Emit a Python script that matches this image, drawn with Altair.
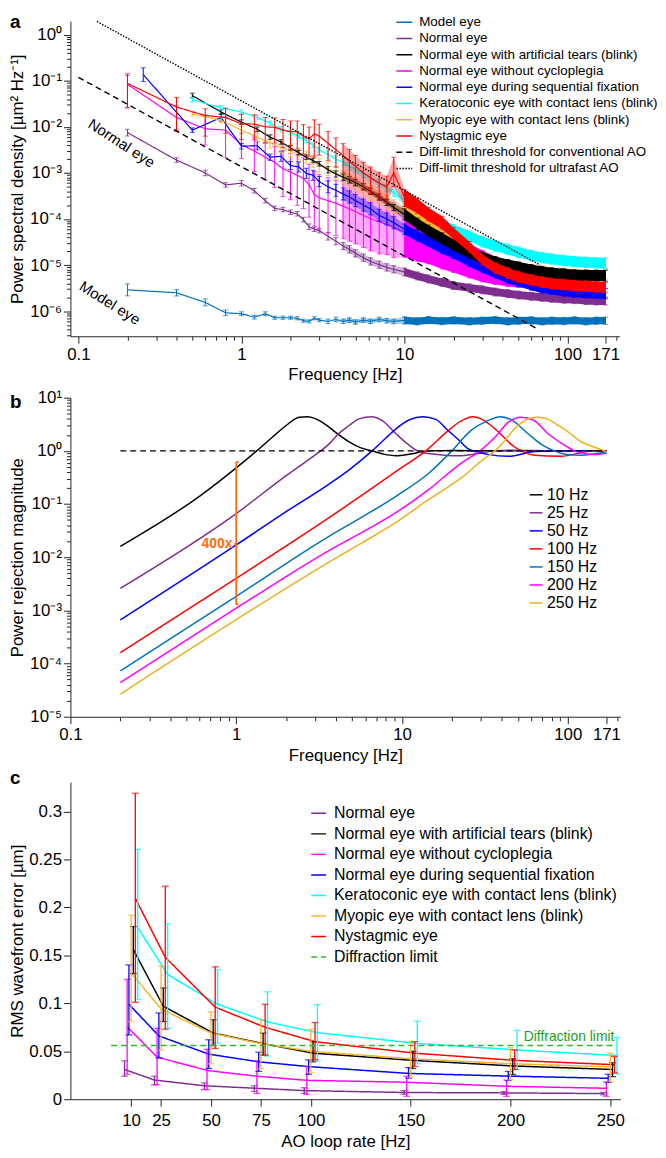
import altair as alt
import pandas as pd

FONT = "Liberation Sans"
AX = "#262626"

# ====================== Panel a : power spectral density ======================
A_NAMES = [
    "Model eye", "Normal eye", "Normal eye with artificial tears (blink)",
    "Normal eye without cycloplegia", "Normal eye during sequential fixation",
    "Keratoconic eye with contact lens (blink)", "Myopic eye with contact lens (blink)",
    "Nystagmic eye", "Diff-limit threshold for conventional AO",
    "Diff-limit threshold for ultrafast AO"]
A_COLORS = ["#0072BD", "#7E2F8E", "#000000", "#FF00FF", "#0000FF", "#00FFFF",
            "#F7B52C", "#FF0000", "#000000", "#000000"]
A_DASHES = [[1, 0]] * 8 + [[6, 4], [1.5, 1.5]]

F_02 = [0.2, 0.4, 0.6, 0.8, 1.0, 1.2, 1.4, 1.6, 1.8, 2.0, 2.2, 2.4, 2.6, 2.8, 3.0]
F_025 = [0.25, 0.5, 0.75, 1.0, 1.25, 1.5, 1.75, 2.0, 2.25, 2.5, 2.75, 3.0]
F_05 = [0.5, 0.75, 1.0, 1.25, 1.5, 1.75, 2.0, 2.25, 2.5, 2.75, 3.0]
F_HI = [3.4, 3.8, 4.2, 4.6, 5.0, 5.6, 6.2, 7.0, 7.8, 8.6, 10, 12, 14, 17, 20, 25, 30,
        36, 43, 50, 60, 70, 80, 95, 110, 130, 150, 171]

MODEL_V = [2.9e-6, 2.5e-6, 1.55e-6, 9.2e-7, 8.8e-7, 7.4e-7, 8.8e-7, 7.2e-7, 7.2e-7, 7.2e-7,
           7.0e-7, 6.2e-7, 6.0e-7, 7.0e-7, 6.4e-7,
           6.0e-7, 6.6e-7, 6.0e-7, 6.4e-7, 5.8e-7, 6.4e-7, 6.0e-7, 6.6e-7, 6.2e-7, 6.0e-7,
           6.3e-7, 6.0e-7, 6.4e-7, 6.1e-7, 6.3e-7, 6.0e-7, 6.2e-7, 6.4e-7, 6.0e-7, 6.2e-7,
           6.3e-7, 6.0e-7, 6.2e-7, 6.1e-7, 6.3e-7, 6.0e-7, 6.2e-7, 6.2e-7]
MODEL_ERR = [1.35, 1.17, 1.19, 1.15, 1.1, 1.1, 1.1, 1.08, 1.08, 1.08, 1.08, 1.08, 1.08, 1.08, 1.08,
             1.12, 1.12, 1.12, 1.12, 1.12, 1.12, 1.12, 1.12, 1.12, 1.12,
             1.2, 1.2, 1.2, 1.2, 1.2, 1.2, 1.2, 1.2, 1.2, 1.2, 1.2, 1.2, 1.2, 1.2, 1.2, 1.2, 1.2, 1.2]

NORMAL_V = [7.5e-3, 1.9e-3, 1.0e-3, 5.5e-4, 6.0e-4, 4.1e-4, 2.5e-4, 1.7e-4, 1.6e-4, 1.4e-4,
            1.3e-4, 9.7e-5, 6.8e-5, 6.0e-5, 5.6e-5,
            4.2e-5, 3.3e-5, 2.6e-5, 2.2e-5, 1.8e-5, 1.45e-5, 1.2e-5, 1.02e-5, 8.9e-6, 8.1e-6,
            7.1e-6, 5.8e-6, 5.0e-6, 4.2e-6, 3.6e-6, 3.2e-6, 2.9e-6, 2.6e-6, 2.4e-6, 2.24e-6,
            2.1e-6, 2.0e-6, 1.9e-6, 1.82e-6, 1.78e-6, 1.7e-6, 1.66e-6, 1.66e-6]
NORMAL_ERR = [1.18, 1.12, 1.15, 1.12, 1.15, 1.12, 1.12, 1.12, 1.12, 1.12, 1.12, 1.12, 1.15, 1.12, 1.12,
              1.2, 1.2, 1.2, 1.2, 1.2, 1.2, 1.2, 1.2, 1.2, 1.2,
              1.22, 1.22, 1.22, 1.22, 1.22, 1.22, 1.22, 1.22, 1.22, 1.22, 1.22, 1.22, 1.22, 1.22,
              1.22, 1.22, 1.22, 1.22]

TEARS_V = [4.8e-2, 2.1e-2, 1.27e-2, 8.9e-3, 6.0e-3, 4.7e-3, 3.5e-3, 2.75e-3, 2.2e-3, 1.86e-3, 1.58e-3,
           1.17e-3, 9.5e-4, 8.1e-4, 7.1e-4, 6.2e-4, 5.0e-4, 4.0e-4, 3.0e-4, 2.3e-4, 1.78e-4,
           1.26e-4, 7.9e-5, 5.6e-5, 3.8e-5, 2.75e-5, 1.86e-5, 1.45e-5, 1.17e-5, 1.0e-5, 8.9e-6,
           7.8e-6, 7.1e-6, 6.6e-6, 6.3e-6, 6.0e-6, 5.9e-6, 5.9e-6, 5.9e-6]
TEARS_ERR = [1.12, 1.12, 1.12, 1.12, 1.12, 1.12, 1.12, 1.12, 1.12, 1.12, 1.12,
             1.17, 1.17, 1.17, 1.17, 1.17, 1.17, 1.17, 1.17, 1.17, 1.17,
             1.32, 1.32, 1.32, 1.32, 1.32, 1.32, 1.32, 1.32, 1.32, 1.32, 1.32, 1.32, 1.32, 1.32,
             1.32, 1.32, 1.32, 1.32]

NOCYC_V = [8.4e-2, 1.6e-2, 9.1e-3, 8.5e-3, 4.1e-3, 3.0e-3, 2.2e-3, 1.7e-3, 1.23e-3, 1.05e-3,
           8.9e-4, 7.6e-4, 5.5e-4, 3.4e-4, 2.9e-4,
           2.5e-4, 2.2e-4, 1.9e-4, 1.66e-4, 1.45e-4, 1.2e-4, 1.02e-4, 8.7e-5, 7.6e-5, 6.6e-5,
           5.2e-5, 4.0e-5, 3.2e-5, 2.3e-5, 1.8e-5, 1.26e-5, 9.5e-6, 7.6e-6, 6.2e-6, 5.2e-6,
           4.4e-6, 3.8e-6, 3.4e-6, 3.0e-6, 2.8e-6, 2.6e-6, 2.5e-6, 2.45e-6]
NOCYC_UP = [1.7, 1.78, 2.0, 1.9, 1.78, 2.0, 2.0, 2.24, 2.5, 2.5, 2.8, 2.8, 2.8, 3.16, 3.16,
            3.16, 3.16, 3.5, 3.5, 3.5, 3.5, 3.5, 3.5, 3.5, 3.5,
            3.2, 3.0, 2.8, 2.6, 2.5, 2.3, 2.2, 2.0, 1.8, 1.6,
            1.45, 1.35, 1.3, 1.26, 1.26, 1.26, 1.26, 1.26]
NOCYC_DN = [3.2, 2.0, 2.24, 4.0, 2.0, 2.8, 3.16, 3.5, 4.0, 4.0, 4.5, 4.5, 5.0, 5.0, 5.0,
            5.0, 5.0, 5.0, 5.0, 5.0, 5.0, 5.0, 5.0, 4.5, 4.5,
            3.5, 3.3, 3.0, 2.8, 2.6, 2.4, 2.2, 2.0, 1.8, 1.6,
            1.45, 1.35, 1.3, 1.26, 1.26, 1.26, 1.26, 1.26]

SEQ_V = [0.136, 8.5e-3, 1.6e-2, 3.8e-3, 3.9e-3, 2.2e-3, 2.3e-3, 1.45e-3, 1.35e-3, 9.8e-4, 8.9e-4, 6.5e-4,
         5.0e-4, 4.2e-4, 3.5e-4, 3.0e-4, 2.5e-4, 2.0e-4, 1.66e-4, 1.2e-4, 1.0e-4, 8.3e-5,
         6.0e-5, 4.3e-5, 3.3e-5, 2.3e-5, 1.8e-5, 1.2e-5, 8.9e-6, 6.8e-6, 5.2e-6, 4.5e-6,
         3.7e-6, 3.2e-6, 3.0e-6, 2.75e-6, 2.6e-6, 2.5e-6, 2.45e-6, 2.4e-6]
SEQ_ERR = [1.41, 1.12, 1.2, 1.15, 1.23, 1.17, 1.29, 1.23, 1.29, 1.29, 1.29, 1.29,
           1.35, 1.35, 1.35, 1.35, 1.35, 1.35, 1.35, 1.35, 1.35, 1.35,
           1.3, 1.3, 1.3, 1.3, 1.3, 1.3, 1.3, 1.3, 1.3, 1.3, 1.3, 1.3, 1.3, 1.3, 1.3, 1.3, 1.3, 1.3]

KERA_V = [3.9e-2, 2.6e-2, 2.1e-2, 1.6e-2, 1.2e-2, 9.1e-3, 7.6e-3, 6.3e-3, 5.0e-3, 4.0e-3, 3.2e-3,
          2.5e-3, 2.0e-3, 1.7e-3, 1.4e-3, 1.2e-3, 9.5e-4, 7.8e-4, 6.0e-4, 4.7e-4, 3.7e-4,
          2.6e-4, 1.74e-4, 1.26e-4, 7.9e-5, 5.8e-5, 4.2e-5, 3.2e-5, 2.6e-5, 2.2e-5, 1.9e-5,
          1.62e-5, 1.45e-5, 1.35e-5, 1.26e-5, 1.2e-5, 1.15e-5, 1.12e-5, 1.1e-5]
KERA_ERR = [1.12, 1.12, 1.12, 1.12, 1.12, 1.12, 1.12, 1.12, 1.12, 1.12, 1.12,
            1.2, 1.2, 1.2, 1.2, 1.2, 1.2, 1.2, 1.2, 1.2, 1.2,
            1.3, 1.3, 1.3, 1.3, 1.3, 1.3, 1.3, 1.3, 1.3, 1.3, 1.3, 1.3, 1.3, 1.3, 1.3, 1.3, 1.3, 1.3]

MYO_V = [1.9e-2, 1.4e-2, 8.5e-3, 6.0e-3, 4.5e-3, 3.6e-3, 3.0e-3, 2.6e-3, 2.2e-3, 1.78e-3, 1.45e-3,
         1.23e-3, 1.0e-3, 8.1e-4, 6.5e-4, 5.5e-4, 4.3e-4, 3.5e-4, 2.9e-4, 2.3e-4, 1.86e-4,
         1.48e-4, 1.07e-4, 7.6e-5, 4.6e-5, 3.2e-5, 2.0e-5, 1.48e-5, 1.2e-5, 1.05e-5, 9.3e-6,
         8.1e-6, 7.6e-6, 7.1e-6, 6.8e-6, 6.5e-6, 6.3e-6, 6.2e-6, 6.2e-6]
MYO_ERR = [1.1, 1.15, 1.2, 1.25, 1.3, 1.3, 1.35, 1.35, 1.35, 1.35, 1.4,
           1.4, 1.4, 1.4, 1.4, 1.4, 1.4, 1.4, 1.4, 1.4, 1.4,
           1.25, 1.25, 1.25, 1.25, 1.25, 1.25, 1.25, 1.25, 1.25, 1.25, 1.25, 1.25, 1.25, 1.25,
           1.25, 1.25, 1.25, 1.25]

NYS_V = [8.8e-2, 2.7e-2, 1.76e-2, 1.6e-2, 1.17e-2, 1.15e-2, 1.0e-2, 9.8e-3, 8.5e-3, 7.9e-3,
         7.9e-3, 6.2e-3, 5.5e-3, 7.1e-3, 6.3e-3,
         4.4e-3, 3.2e-3, 2.4e-3, 1.78e-3, 1.41e-3, 1.0e-3, 7.9e-4, 6.0e-4, 5.0e-4, 1.0e-3,
         3.0e-4, 2.0e-4, 1.32e-4, 8.5e-5, 5.0e-5, 2.5e-5, 1.32e-5, 8.7e-6, 6.8e-6, 5.6e-6,
         4.8e-6, 4.3e-6, 4.0e-6, 3.8e-6, 3.6e-6, 3.5e-6, 3.4e-6, 3.3e-6]
NYS_UP = [1.5, 1.6, 1.4, 1.6, 1.6, 1.6, 1.6, 1.6, 1.7, 1.7, 1.7, 1.8, 1.8, 2.0, 1.8,
          1.8, 1.8, 1.8, 1.8, 1.7, 1.7, 1.7, 1.7, 1.7, 2.2,
          1.45, 1.4, 1.35, 1.35, 1.3, 1.3, 1.3, 1.3, 1.3, 1.3, 1.3, 1.3, 1.3, 1.3, 1.3, 1.3, 1.3, 1.3]
NYS_DN = [3.4, 3.2, 2.8, 2.2, 2.2, 2.2, 2.2, 2.2, 2.4, 2.4, 2.4, 2.4, 2.4, 3.2, 2.6,
          2.4, 2.4, 2.4, 2.4, 2.2, 2.2, 2.2, 2.2, 2.2, 2.0,
          1.6, 1.5, 1.45, 1.4, 1.35, 1.32, 1.32, 1.32, 1.32, 1.32, 1.32, 1.32, 1.32, 1.32, 1.32,
          1.32, 1.32, 1.32]

# drawing order (index into A_NAMES)
SERIES_A = [
    (0, F_02 + F_HI, MODEL_V, MODEL_ERR, MODEL_ERR),
    (1, F_02 + F_HI, NORMAL_V, NORMAL_ERR, NORMAL_ERR),
    (3, F_02 + F_HI, NOCYC_V, NOCYC_UP, NOCYC_DN),
    (4, F_025 + F_HI, SEQ_V, SEQ_ERR, SEQ_ERR),
    (6, F_05 + F_HI, MYO_V, MYO_ERR, MYO_ERR),
    (2, F_05 + F_HI, TEARS_V, TEARS_ERR, TEARS_ERR),
    (5, F_05 + F_HI, KERA_V, KERA_ERR, KERA_ERR),
    (7, F_02 + F_HI, NYS_V, NYS_UP, NYS_DN),
]

THR_F = [[0.1, 64], [0.13, 68]]
THR_V = [[0.119, 4.3e-7], [1.94, 1.0e-5]]

LBL_TEXT = ["Normal eye", "Model eye"]
LBL_F = [0.184, 0.156]
LBL_V = [4.4e-3, 1.5e-6]

# ====================== Panel b : power rejection ======================
B_NAMES = ["10 Hz", "25 Hz", "50 Hz", "100 Hz", "150 Hz", "200 Hz", "250 Hz"]
B_COLORS = ["#000000", "#7E2F8E", "#0000FF", "#FF0000", "#0072BD", "#FF00FF", "#EDB120"]
B_F = [
    [0.2, 0.6, 1.0, 1.33, 1.65, 2.0, 2.4, 2.7, 3.05, 3.5, 4.0, 4.8, 5.6, 6.6, 8.0, 9.2, 11, 14.5, 20, 40, 80, 171],
    [0.2, 1.0, 1.92, 2.8, 3.65, 4.2, 4.8, 5.5, 6.6, 7.6, 9.2, 10.5, 12.6, 14.5, 18, 22, 28, 36, 50, 80, 120, 171],
    [0.2, 1.0, 2.0, 3.65, 4.8, 6.6, 8.0, 9.2, 11, 13.4, 16, 19, 22, 25, 33, 44, 63, 100, 171],
    [0.2, 1.0, 3.65, 5.8, 9.2, 13.9, 19, 22.5, 26.6, 31, 36.4, 48, 63, 91, 132, 171],
    [0.2, 1.0, 3.65, 5.8, 9.2, 14.5, 20, 26, 33, 39, 46, 57.6, 70, 83, 100, 120, 171],
    [0.2, 1.0, 3.65, 5.8, 9.2, 14.5, 22.8, 29.6, 36.4, 44, 52.5, 62, 76, 95, 110, 145, 171],
    [0.2, 1.0, 3.65, 5.8, 9.2, 14.5, 22.8, 31.5, 36.4, 40, 49.5, 59, 66, 76, 87, 100, 120, 145, 171],
]
B_V = [
    [0.016, 0.14, 0.48, 1.0, 1.8, 3.0, 4.3, 4.4, 3.95, 3.05, 2.2, 1.47, 1.15, 1.0, 0.85, 0.81, 0.86, 1.0, 1.02, 1.0, 1.0, 1.0],
    [0.0026, 0.066, 0.31, 0.72, 1.37, 2.18, 3.0, 4.0, 4.4, 3.7, 2.1, 1.45, 0.97, 0.89, 0.83, 0.81, 0.88, 1.0, 1.03, 1.0, 1.0, 1.0],
    [6.6e-4, 0.017, 0.072, 0.24, 0.44, 1.0, 1.75, 2.6, 3.8, 4.4, 3.9, 2.4, 1.6, 1.1, 0.86, 0.79, 0.97, 1.0, 1.0],
    [1.6e-4, 4.0e-3, 0.056, 0.15, 0.41, 1.0, 2.4, 3.6, 4.4, 3.8, 2.6, 1.17, 0.83, 0.79, 0.97, 1.0],
    [7.3e-5, 1.84e-3, 0.025, 0.058, 0.14, 0.38, 1.0, 2.4, 3.7, 4.4, 3.8, 2.1, 1.3, 1.0, 0.85, 0.83, 0.96],
    [4.4e-5, 1.1e-3, 0.0135, 0.030, 0.069, 0.187, 0.59, 1.0, 1.8, 3.5, 4.3, 3.8, 2.1, 1.3, 1.0, 0.85, 0.9],
    [2.67e-5, 6.7e-4, 8.2e-3, 0.019, 0.045, 0.122, 0.31, 0.72, 1.0, 1.35, 2.9, 4.1, 4.3, 3.95, 3.05, 2.3, 1.5, 1.17, 0.97],
]
UNITY_F = [0.2, 171]
UNITY_V = [1.0, 1.0]
BRACKET_F = 1.0
BRACKET_LO = 1.3e-3
BRACKET_HI = 0.62
BRACKET_MID = 0.0178
BRACKET_LABEL = "400x"
ORANGE = "#FF6A10"

# ====================== Panel c : RMS wavefront error ======================
C_RATES = [10, 25, 50, 75, 100, 150, 200, 250]
C_NAMES = ["Normal eye", "Normal eye with artificial tears (blink)", "Normal eye without cycloplegia",
           "Normal eye during sequential fixation", "Keratoconic eye with contact lens (blink)",
           "Myopic eye with contact lens (blink)", "Nystagmic eye", "Diffraction limit"]
C_COLORS = ["#7E2F8E", "#000000", "#FF00FF", "#0000FF", "#00FFFF", "#F7B52C", "#FF0000", "#2EB82E"]
C_DASHES = [[1, 0]] * 7 + [[6, 4]]
C_DODGE = [-3.3, 1.1, -2.0, -1.1, 3.3, 0.0, 2.1]   # small horizontal offset of each group [Hz]

C_V = [
    [0.031, 0.020, 0.014, 0.0115, 0.009, 0.007, 0.0066, 0.0059],
    [0.156, 0.097, 0.069, 0.058, 0.048, 0.0405, 0.0347, 0.031],
    [0.0755, 0.044, 0.030, 0.024, 0.0197, 0.0177, 0.0135, 0.0114],
    [0.099, 0.066, 0.047, 0.039, 0.034, 0.0269, 0.0241, 0.0218],
    [0.179, 0.130, 0.099, 0.0806, 0.0694, 0.0582, 0.0514, 0.0455],
    [0.132, 0.094, 0.069, 0.058, 0.050, 0.0422, 0.037, 0.0337],
    [0.2095, 0.148, 0.096, 0.075, 0.060, 0.048, 0.0405, 0.036],
]
C_LO = [
    [0.024, 0.015, 0.010, 0.008, 0.006, 0.005, 0.005, 0.0045],
    [0.131, 0.081, 0.056, 0.046, 0.039, 0.032, 0.0258, 0.0235],
    [0.026, 0.015, 0.010, 0.006, 0.005, 0.003, 0.003, 0.003],
    [0.067, 0.043, 0.032, 0.029, 0.026, 0.022, 0.0194, 0.0175],
    [0.104, 0.074, 0.0585, 0.045, 0.040, 0.037, 0.031, 0.0265],
    [0.081, 0.051, 0.037, 0.032, 0.028, 0.0231, 0.0201, 0.0184],
    [0.101, 0.073, 0.053, 0.046, 0.041, 0.0342, 0.031, 0.0275],
]
C_HI = [
    [0.040, 0.024, 0.017, 0.014, 0.012, 0.009, 0.008, 0.0072],
    [0.180, 0.116, 0.083, 0.069, 0.060, 0.050, 0.0422, 0.038],
    [0.125, 0.074, 0.052, 0.040, 0.034, 0.024, 0.020, 0.018],
    [0.140, 0.090, 0.062, 0.049, 0.041, 0.033, 0.029, 0.026],
    [0.2605, 0.183, 0.135, 0.112, 0.0986, 0.0813, 0.0718, 0.0643],
    [0.192, 0.139, 0.091, 0.083, 0.073, 0.0605, 0.0537, 0.048],
    [0.319, 0.222, 0.138, 0.099, 0.080, 0.060, 0.0513, 0.0446],
]
DIFF_LIMIT = 0.0561
DIFF_X = [0, 252]

# ====================== helpers ======================
SUP = str.maketrans("0123456789-", "⁰¹²³⁴⁵⁶⁷⁸⁹⁻")


def exp_label_expr(exps):
    parts = [f"round(log(datum.value)/LN10) == {e} ? '10{str(e).translate(SUP)}'" for e in exps]
    return " : ".join(parts) + " : ''"


def minor_log(lo, hi, e0, e1):
    return [k * 10.0 ** e for e in range(e0, e1 + 1) for k in range(2, 10) if lo <= k * 10.0 ** e <= hi]


def letter(ch, x, y):
    return alt.Chart(pd.DataFrame({"t": [ch]})).mark_text(
        align="left", baseline="top", fontSize=19, fontWeight="bold", font=FONT, color="black"
    ).encode(x=alt.value(x), y=alt.value(y), text="t:N")


# ====================== build panel a ======================
WA, HA = 554, 318
COMB_FROM, BAND_FROM = 4.2, 10
rows = []
for sid, F, V, U, D in SERIES_A:
    assert len(F) == len(V) == len(U) == len(D), A_NAMES[sid]
    for f, v, u, d in zip(F, V, U, D):
        rows.append({"sid": sid, "series": A_NAMES[sid], "f": f, "v": v, "hi": v * u, "lo": v / d})
dfa = pd.DataFrame(rows)
thr_rows = []
for k in range(2):
    for f, v in zip(THR_F[k], THR_V[k]):
        thr_rows.append({"series": A_NAMES[8 + k], "f": f, "v": v})
dft = pd.DataFrame(thr_rows)

xs_a = alt.Scale(type="log", domain=[0.0894, 208], nice=False)
ys_a = alt.Scale(type="log", domain=[2.85e-7, 1.97], nice=False)
leg_a = alt.Legend(title=None, orient="none", legendX=328, legendY=-8, symbolType="stroke",
                   symbolSize=256, symbolStrokeWidth=1.5, labelFontSize=13.5, labelOffset=6,
                   rowPadding=0.4, labelLimit=500, padding=0)
col_a = alt.Color("series:N", scale=alt.Scale(domain=A_NAMES, range=A_COLORS), legend=leg_a)
dash_a = alt.StrokeDash("series:N", scale=alt.Scale(domain=A_NAMES, range=A_DASHES), legend=leg_a)

base_a = alt.Chart(dfa)
layers_a = [
    base_a.mark_point(opacity=0).encode(
        x=alt.X("f:Q", scale=xs_a, axis=alt.Axis(values=[0.1, 1, 10, 100, 171], format="~g", tickSize=7,
                                                 labelPadding=3, title="Frequency [Hz]", titlePadding=5,
                                                 orient="bottom")),
        y=alt.Y("v:Q", scale=ys_a, axis=alt.Axis(values=[1e-6, 1e-5, 1e-4, 1e-3, 1e-2, 1e-1, 1],
                                                 labelExpr=exp_label_expr([0, -1, -2, -3, -4, -5, -6]),
                                                 tickSize=7, labelPadding=2,
                                                 title="Power spectral density [µm² Hz⁻¹]",
                                                 titleX=-48, titleY=HA / 2, titleAngle=270,
                                                 titleAlign="center", titleBaseline="alphabetic",
                                                 orient="left"))),
    base_a.mark_point(opacity=0).encode(
        x=alt.X("f:Q", scale=xs_a, axis=alt.Axis(values=minor_log(0.0894, 208, -1, 2), labels=False,
                                                 tickSize=4, domain=False, title=None, orient="bottom")),
        y=alt.Y("v:Q", scale=ys_a, axis=alt.Axis(values=minor_log(2.85e-7, 1.97, -7, 0), labels=False,
                                                 tickSize=4, domain=False, title=None, orient="left"))),
]
for sid, F, V, U, D in SERIES_A:
    c = A_COLORS[sid]
    b = base_a.transform_filter(alt.datum.sid == sid)
    layers_a.append(b.transform_filter((alt.datum.f >= COMB_FROM) & (alt.datum.f <= BAND_FROM)).mark_area(
        color=c, opacity=0.35).encode(
        x=alt.X("f:Q", scale=xs_a, axis=None), y=alt.Y("lo:Q", scale=ys_a, axis=None), y2="hi:Q"))
    layers_a.append(b.transform_filter(alt.datum.f >= BAND_FROM).mark_area(color=c, opacity=1).encode(
        x=alt.X("f:Q", scale=xs_a, axis=None), y=alt.Y("lo:Q", scale=ys_a, axis=None), y2="hi:Q"))
    layers_a.append(b.mark_rule(color=c, strokeWidth=1).encode(
        x=alt.X("f:Q", scale=xs_a, axis=None), y=alt.Y("lo:Q", scale=ys_a, axis=None), y2="hi:Q"))
    for fld in ["lo", "hi"]:
        layers_a.append(b.mark_tick(color=c, orient="horizontal", size=5, thickness=1).encode(
            x=alt.X("f:Q", scale=xs_a, axis=None), y=alt.Y(f"{fld}:Q", scale=ys_a, axis=None)))
    layers_a.append(b.mark_line(strokeWidth=1.2).encode(
        x=alt.X("f:Q", scale=xs_a, axis=None), y=alt.Y("v:Q", scale=ys_a, axis=None),
        color=col_a, strokeDash=dash_a))
layers_a.append(alt.Chart(dft).mark_line(strokeWidth=1.4).encode(
    x=alt.X("f:Q", scale=xs_a, axis=None), y=alt.Y("v:Q", scale=ys_a, axis=None),
    color=col_a, strokeDash=dash_a))
for k, ang in [(0, 33), (1, 32)]:
    layers_a.append(alt.Chart(pd.DataFrame({"t": [LBL_TEXT[k]], "f": [LBL_F[k]], "v": [LBL_V[k]]})).mark_text(
        angle=ang, fontSize=15, font=FONT, color="black", align="center", baseline="middle").encode(
        x=alt.X("f:Q", scale=xs_a, axis=None), y=alt.Y("v:Q", scale=ys_a, axis=None), text="t:N"))
layers_a.append(letter("a", -61, -8))
panel_a = alt.layer(*layers_a).resolve_axis(x="independent", y="independent").properties(width=WA, height=HA)

# ====================== build panel b ======================
WB, HB = 555, 322
rows = []
for i, (F, V) in enumerate(zip(B_F, B_V)):
    assert len(F) == len(V)
    for f, v in zip(F, V):
        rows.append({"sid": i, "series": B_NAMES[i], "f": f, "v": v})
dfb = pd.DataFrame(rows)
xs_b = alt.Scale(type="log", domain=[0.1, 207.5], nice=False)
ys_b = alt.Scale(type="log", domain=[1e-5, 10], nice=False)
leg_b = alt.Legend(title=None, orient="none", legendX=462, legendY=90, symbolType="stroke",
                   symbolSize=169, symbolStrokeWidth=1.5, labelFontSize=16, labelOffset=3,
                   rowPadding=2.2, labelLimit=300, padding=0)
col_b = alt.Color("series:N", scale=alt.Scale(domain=B_NAMES, range=B_COLORS), legend=leg_b)
base_b = alt.Chart(dfb)
layers_b = [
    base_b.mark_point(opacity=0).encode(
        x=alt.X("f:Q", scale=xs_b, axis=alt.Axis(values=[0.1, 1, 10, 100, 171], format="~g", tickSize=7,
                                                 labelPadding=3, title="Frequency [Hz]", titlePadding=5,
                                                 orient="bottom")),
        y=alt.Y("v:Q", scale=ys_b, axis=alt.Axis(values=[1e-5, 1e-4, 1e-3, 1e-2, 1e-1, 1, 10],
                                                 labelExpr=exp_label_expr([1, 0, -1, -2, -3, -4, -5]),
                                                 tickSize=7, labelPadding=2,
                                                 title="Power rejection magnitude",
                                                 titleX=-48, titleY=HB / 2, titleAngle=270,
                                                 titleAlign="center", titleBaseline="alphabetic",
                                                 orient="left"))),
    base_b.mark_point(opacity=0).encode(
        x=alt.X("f:Q", scale=xs_b, axis=alt.Axis(values=minor_log(0.1, 207.5, -1, 2), labels=False,
                                                 tickSize=4, domain=False, title=None, orient="bottom")),
        y=alt.Y("v:Q", scale=ys_b, axis=alt.Axis(values=minor_log(1e-5, 10, -5, 0), labels=False,
                                                 tickSize=4, domain=False, title=None, orient="left"))),
]
for i in range(len(B_NAMES)):
    layers_b.append(base_b.transform_filter(alt.datum.sid == i).mark_line(
        strokeWidth=1.5, interpolate="monotone").encode(
        x=alt.X("f:Q", scale=xs_b, axis=None), y=alt.Y("v:Q", scale=ys_b, axis=None), color=col_b))
layers_b.append(alt.Chart(pd.DataFrame({"f": UNITY_F, "v": UNITY_V})).mark_line(
    color="black", strokeDash=[6, 4], strokeWidth=1.4).encode(
    x=alt.X("f:Q", scale=xs_b, axis=None), y=alt.Y("v:Q", scale=ys_b, axis=None)))
br = pd.DataFrame({"f": [BRACKET_F], "f2": [BRACKET_F * 1.035], "f0": [BRACKET_F * 0.975],
                   "lo": [BRACKET_LO], "hi": [BRACKET_HI], "mid": [BRACKET_MID], "t": [BRACKET_LABEL]})
bb = alt.Chart(br)
layers_b += [
    bb.mark_rule(color=ORANGE, strokeWidth=1.8).encode(
        x=alt.X("f:Q", scale=xs_b, axis=None), y=alt.Y("lo:Q", scale=ys_b, axis=None), y2="hi:Q"),
    bb.mark_rule(color=ORANGE, strokeWidth=1.8).encode(
        x=alt.X("f:Q", scale=xs_b, axis=None), x2="f2:Q", y=alt.Y("hi:Q", scale=ys_b, axis=None)),
    bb.mark_rule(color=ORANGE, strokeWidth=1.8).encode(
        x=alt.X("f:Q", scale=xs_b, axis=None), x2="f2:Q", y=alt.Y("lo:Q", scale=ys_b, axis=None)),
    bb.mark_rule(color=ORANGE, strokeWidth=1.8).encode(
        x=alt.X("f0:Q", scale=xs_b, axis=None), x2="f:Q", y=alt.Y("mid:Q", scale=ys_b, axis=None)),
    bb.mark_text(color=ORANGE, fontWeight="bold", fontSize=14, font=FONT, align="right",
                 baseline="middle", dx=-2).encode(
        x=alt.X("f0:Q", scale=xs_b, axis=None), y=alt.Y("mid:Q", scale=ys_b, axis=None), text="t:N"),
    letter("b", -61, -5),
]
panel_b = alt.layer(*layers_b).resolve_axis(x="independent", y="independent").properties(width=WB, height=HB)

# ====================== build panel c ======================
WC, HC = 555, 320
rows = []
for i in range(7):
    for r, v, lo, hi in zip(C_RATES, C_V[i], C_LO[i], C_HI[i]):
        rows.append({"sid": i, "series": C_NAMES[i], "x": r + C_DODGE[i], "v": v, "lo": lo, "hi": hi})
dfc = pd.DataFrame(rows)
dfd = pd.DataFrame({"series": [C_NAMES[7]] * 2, "x": DIFF_X, "v": [DIFF_LIMIT] * 2})
xs_c = alt.Scale(domain=[-20.4, 255], nice=False, zero=False)
ys_c = alt.Scale(domain=[0, 0.3306], nice=False)
leg_c = alt.Legend(title=None, orient="none", legendX=242, legendY=23, symbolType="stroke",
                   symbolSize=225, symbolStrokeWidth=1.5, labelFontSize=16, labelOffset=7,
                   rowPadding=3.7, labelLimit=500, padding=0)
col_c = alt.Color("series:N", scale=alt.Scale(domain=C_NAMES, range=C_COLORS), legend=leg_c)
dash_c = alt.StrokeDash("series:N", scale=alt.Scale(domain=C_NAMES, range=C_DASHES), legend=leg_c)
base_c = alt.Chart(dfc)
layers_c = [
    base_c.mark_point(opacity=0).encode(
        x=alt.X("x:Q", scale=xs_c, axis=alt.Axis(values=C_RATES, tickSize=7, labelPadding=7,
                                                 title="AO loop rate [Hz]", titlePadding=5, orient="bottom")),
        y=alt.Y("v:Q", scale=ys_c, axis=alt.Axis(values=[0, 0.05, 0.1, 0.15, 0.2, 0.25, 0.3], format="~g",
                                                 tickSize=7, labelPadding=2, title="RMS wavefront error [µm]",
                                                 titleX=-48, titleY=HC / 2, titleAngle=270,
                                                 titleAlign="center", titleBaseline="alphabetic",
                                                 orient="left"))),
]
for i in range(7):
    b = base_c.transform_filter(alt.datum.sid == i)
    layers_c.append(b.mark_line(strokeWidth=1.5).encode(
        x=alt.X("x:Q", scale=xs_c, axis=None), y=alt.Y("v:Q", scale=ys_c, axis=None),
        color=col_c, strokeDash=dash_c))
for i in range(7):
    c = C_COLORS[i]
    b = base_c.transform_filter(alt.datum.sid == i)
    layers_c.append(b.mark_rule(color=c, strokeWidth=1.3).encode(
        x=alt.X("x:Q", scale=xs_c, axis=None), y=alt.Y("lo:Q", scale=ys_c, axis=None), y2="hi:Q"))
    for fld in ["lo", "hi"]:
        layers_c.append(b.mark_tick(color=c, orient="horizontal", size=7, thickness=1.3).encode(
            x=alt.X("x:Q", scale=xs_c, axis=None), y=alt.Y(f"{fld}:Q", scale=ys_c, axis=None)))
layers_c.append(alt.Chart(dfd).mark_line(strokeWidth=1.5).encode(
    x=alt.X("x:Q", scale=xs_c, axis=None), y=alt.Y("v:Q", scale=ys_c, axis=None),
    color=col_c, strokeDash=dash_c))
layers_c.append(alt.Chart(pd.DataFrame({"x": [DIFF_X[1]], "v": [DIFF_LIMIT], "t": [C_NAMES[7]]})).mark_text(
    color="#1E9E1E", fontSize=14, font=FONT, align="right", baseline="bottom", dy=-1).encode(
    x=alt.X("x:Q", scale=xs_c, axis=None), y=alt.Y("v:Q", scale=ys_c, axis=None), text="t:N"))
layers_c.append(letter("c", -61, -13))
panel_c = alt.layer(*layers_c).resolve_axis(x="independent", y="independent").properties(width=WC, height=HC)

chart = alt.vconcat(panel_a, panel_b, panel_c, spacing=6).resolve_scale(
    color="independent", strokeDash="independent"
).resolve_legend(color="independent", strokeDash="independent").properties(
    padding={"left": 0, "top": 0, "right": 0, "bottom": 0}
).configure_view(stroke=None).configure_axis(
    labelFont=FONT, titleFont=FONT, labelFontSize=17, titleFontSize=17, labelColor="black",
    titleColor="black", titleFontWeight="normal", domainColor=AX, tickColor=AX, domainWidth=1,
    tickWidth=1, grid=False, labelFlush=False, labelOverlap=False
).configure_legend(labelFont=FONT, labelColor="black")

chart.save("out.html", embed_options={"renderer": "svg", "actions": False})
